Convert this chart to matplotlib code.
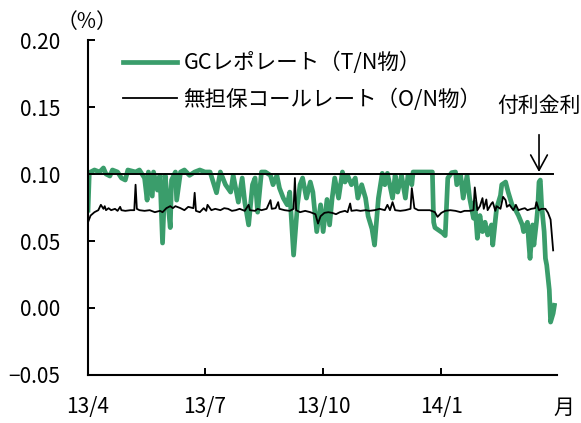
import pandas as pd
import matplotlib
matplotlib.use("Agg")
import matplotlib.pyplot as plt

plt.rcParams['font.family'] = ['Noto Sans CJK JP', 'DejaVu Sans']

start = pd.Timestamp("2013-04-01")

# GCレポレート (T/N物), days from 2013-04-01 and rate in %
gc_day = [0, 1, 5, 9, 12, 14, 17, 19, 23, 26, 29, 31, 37, 40, 44, 46, 47, 50, 51, 54,
          56, 58, 60, 62, 64, 65, 68, 69, 72, 75, 79, 83, 87, 91, 95, 100, 103, 107, 111, 113,
          117, 120, 122, 125, 128, 130, 132, 135, 138, 142, 144, 147, 149, 152, 155, 157, 160, 163, 165, 167,
          170, 173, 175, 178, 181, 183, 186, 188, 190, 192, 195, 198, 200, 202, 205, 208, 210, 213, 216, 218,
          221, 223, 226, 229, 231, 233, 237, 239, 241, 244, 247, 249, 252, 253, 257, 262, 268, 269, 270, 276,
          278, 280, 283, 286, 287, 290, 292, 295, 297, 300, 301, 303, 305, 307, 309, 311, 314, 315, 318, 321,
          322, 325, 327, 330, 332, 335, 338, 339, 342, 343, 344, 346, 347, 349, 350, 351, 352, 353, 355, 356,
          357, 359, 360, 362, 363]
gc_val = [0.073, 0.101, 0.103, 0.1015, 0.1045, 0.100, 0.0985, 0.103, 0.1015, 0.097, 0.0955, 0.103, 0.1015, 0.103, 0.097, 0.0805, 0.1015, 0.0835, 0.1015, 0.088,
          0.099, 0.0485, 0.099, 0.0805, 0.060, 0.0955, 0.1015, 0.0805, 0.1015, 0.103, 0.099, 0.1015, 0.103, 0.1015, 0.1015, 0.086, 0.1015, 0.092, 0.0865, 0.099,
          0.079, 0.097, 0.079, 0.062, 0.092, 0.097, 0.0715, 0.1015, 0.1015, 0.099, 0.092, 0.099, 0.0895, 0.082, 0.077, 0.0865, 0.0395, 0.077, 0.092, 0.097,
          0.082, 0.094, 0.0865, 0.057, 0.077, 0.057, 0.081, 0.062, 0.082, 0.097, 0.082, 0.1015, 0.094, 0.099, 0.092, 0.097, 0.082, 0.092, 0.082, 0.0685,
          0.059, 0.047, 0.082, 0.1005, 0.092, 0.1005, 0.082, 0.099, 0.0865, 0.099, 0.082, 0.099, 0.092, 0.1015, 0.1015, 0.1015, 0.1015, 0.064, 0.060, 0.056,
          0.054, 0.097, 0.101, 0.1015, 0.092, 0.099, 0.082, 0.099, 0.082, 0.067, 0.079, 0.052, 0.069, 0.057, 0.064, 0.0545, 0.062, 0.047, 0.0745, 0.084,
          0.092, 0.094, 0.0865, 0.077, 0.0745, 0.069, 0.062, 0.057, 0.064, 0.049, 0.037, 0.062, 0.047, 0.064, 0.0745, 0.094, 0.0955, 0.077, 0.057, 0.037,
          0.032, 0.0135, -0.0105, -0.004, 0.002]

# 無担保コールレート (O/N物)
call_day = [0, 2, 5, 8, 10, 12, 13, 14, 16, 18, 21, 23, 25, 26, 29, 33, 36, 37, 38, 40,
            44, 48, 52, 56, 58, 61, 64, 66, 68, 72, 75, 78, 82, 83, 84, 87, 90, 92, 93, 96,
            99, 103, 106, 109, 112, 115, 118, 122, 125, 126, 130, 132, 135, 139, 142, 143, 146, 148, 149, 153,
            157, 160, 161, 162, 165, 169, 173, 177, 179, 181, 184, 187, 190, 193, 196, 200, 202, 204, 205, 209,
            212, 216, 219, 223, 227, 231, 233, 235, 237, 239, 243, 247, 251, 252, 254, 257, 262, 266, 270, 272,
            275, 278, 282, 286, 290, 293, 297, 300, 301, 303, 305, 307, 308, 310, 311, 314, 315, 317, 318, 321,
            323, 325, 326, 328, 331, 333, 335, 338, 340, 342, 345, 348, 349, 351, 353, 356, 358, 360, 362]
call_val = [0.064, 0.069, 0.0715, 0.073, 0.077, 0.074, 0.076, 0.073, 0.0745, 0.073, 0.074, 0.0725, 0.0755, 0.073, 0.0725, 0.073, 0.073, 0.092, 0.074, 0.073,
            0.0725, 0.073, 0.0715, 0.0725, 0.0715, 0.0745, 0.076, 0.0745, 0.076, 0.0745, 0.073, 0.0755, 0.0745, 0.086, 0.0725, 0.0715, 0.0745, 0.0725, 0.077, 0.073,
            0.074, 0.073, 0.0745, 0.074, 0.0725, 0.073, 0.074, 0.0725, 0.077, 0.073, 0.0725, 0.074, 0.073, 0.074, 0.0805, 0.074, 0.0745, 0.079, 0.074, 0.073,
            0.0725, 0.074, 0.097, 0.073, 0.0715, 0.0725, 0.0715, 0.070, 0.063, 0.0685, 0.071, 0.0715, 0.071, 0.070, 0.0715, 0.0725, 0.0715, 0.078, 0.0725, 0.073,
            0.0725, 0.073, 0.0725, 0.073, 0.074, 0.073, 0.077, 0.073, 0.079, 0.073, 0.0725, 0.073, 0.074, 0.0895, 0.0745, 0.073, 0.073, 0.073, 0.0715, 0.068,
            0.071, 0.0725, 0.073, 0.0725, 0.0715, 0.0725, 0.0725, 0.073, 0.090, 0.073, 0.076, 0.082, 0.074, 0.081, 0.073, 0.078, 0.079, 0.0725, 0.076, 0.074,
            0.083, 0.0805, 0.0755, 0.077, 0.073, 0.077, 0.073, 0.074, 0.0745, 0.073, 0.074, 0.0745, 0.079, 0.073, 0.074, 0.074, 0.071, 0.066, 0.043]

ioer_rate = 0.10
gc_dates = start + pd.to_timedelta(gc_day, unit="D")
call_dates = start + pd.to_timedelta(call_day, unit="D")

xtick_dates = pd.to_datetime(["2013-04-01", "2013-07-01", "2013-10-01", "2014-01-01"])
xtick_labels = ["13/4", "13/7", "13/10", "14/1"]
yticks = [-0.05, 0.0, 0.05, 0.10, 0.15, 0.20]
ytick_labels = ["−0.05", "0.00", "0.05", "0.10", "0.15", "0.20"]

green = "#3a9d6b"
fs = 15

fig = plt.figure(figsize=(5.81, 4.23), dpi=100)
ax = fig.add_axes([0.1515, 0.1135, 0.8072, 0.7919])

ax.plot(gc_dates, gc_val, color=green, lw=3.4, label="GCレポレート（T/N物）")
ax.plot(call_dates, call_val, color="black", lw=1.3, label="無担保コールレート（O/N物）")
ax.plot([start, call_dates[-1]], [ioer_rate, ioer_rate], color="black", lw=1.4)

ax.set_xlim(start, pd.Timestamp("2014-04-01"))
ax.set_ylim(-0.05, 0.20)
ax.set_xticks(xtick_dates)
ax.set_xticklabels(xtick_labels, fontsize=fs)
ax.set_yticks(yticks)
ax.set_yticklabels(ytick_labels, fontsize=fs)
ax.tick_params(direction="in", length=5, width=1.4)
ax.tick_params(axis="x", pad=15)
ax.tick_params(axis="y", pad=20)

for s in ["top", "right"]:
    ax.spines[s].set_visible(False)
for s in ["left", "bottom"]:
    ax.spines[s].set_linewidth(1.5)

leg = ax.legend(loc="upper left", bbox_to_anchor=(0.05, 1.0), frameon=False, fontsize=15.5,
                handlelength=2.5, handletextpad=0.3, labelspacing=0.65, borderaxespad=0.15)

fig.text(0.098, 0.948, "（%）", fontsize=fs, ha="left", va="center")
fig.text(0.952, 0.035, "月", fontsize=fs, ha="left", va="center")

arrow_x = start + pd.Timedelta(days=351)
ax.annotate("付利金利", xy=(arrow_x, ioer_rate + 0.0015), xytext=(arrow_x, 0.151),
            fontsize=fs, ha="center", va="center",
            arrowprops=dict(arrowstyle="->,head_length=0.55,head_width=0.3", color="black", lw=1.2,
                            mutation_scale=20, shrinkA=11, shrinkB=0))

fig.savefig("out.png", dpi=100)
